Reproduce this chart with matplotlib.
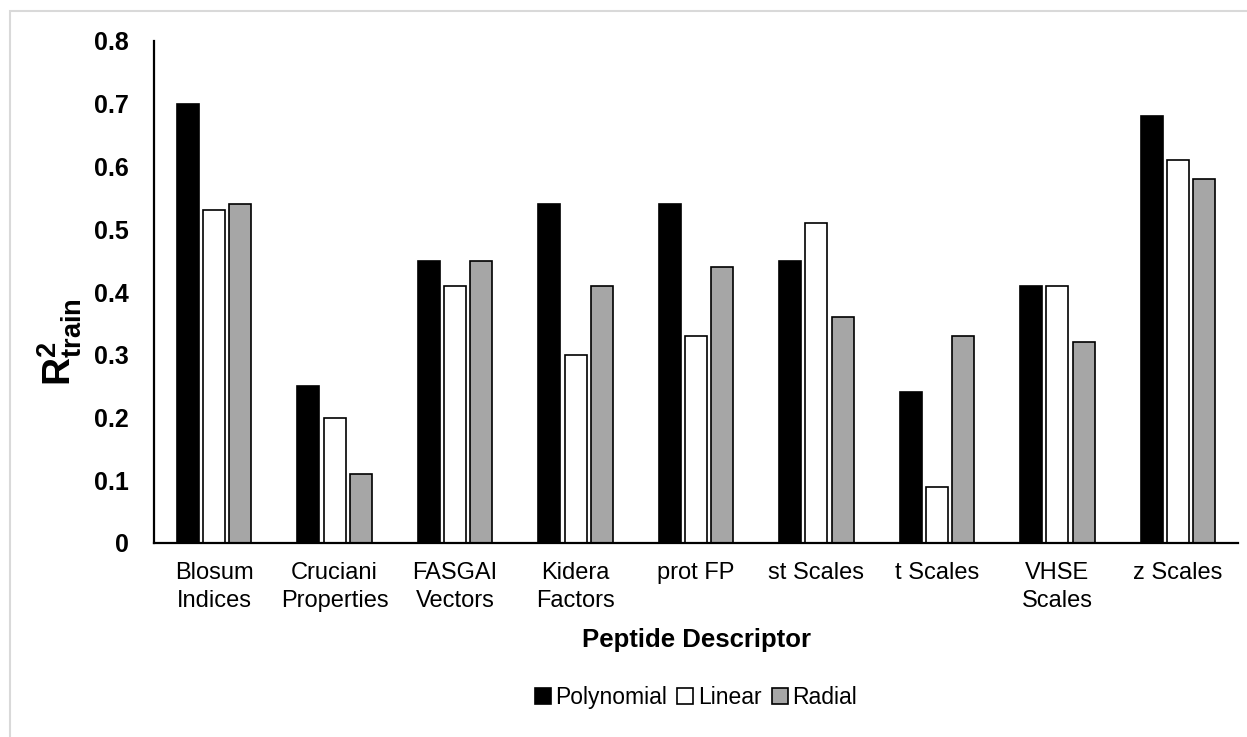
import numpy as np
import matplotlib
matplotlib.use("Agg")
import matplotlib.pyplot as plt
from matplotlib.patches import Rectangle

plt.rcParams['font.family'] = ['Liberation Sans', 'DejaVu Sans']
plt.rcParams['mathtext.fontset'] = 'custom'
plt.rcParams['mathtext.rm'] = 'Liberation Sans'
plt.rcParams['mathtext.bf'] = 'Liberation Sans:bold'

categories = ["Blosum\nIndices", "Cruciani\nProperties", "FASGAI\nVectors",
              "Kidera\nFactors", "prot FP", "st Scales", "t Scales",
              "VHSE\nScales", "z Scales"]
polynomial = [0.70, 0.25, 0.45, 0.54, 0.54, 0.45, 0.24, 0.41, 0.68]
linear = [0.53, 0.20, 0.41, 0.30, 0.33, 0.51, 0.09, 0.41, 0.61]
radial = [0.54, 0.11, 0.45, 0.41, 0.44, 0.36, 0.33, 0.32, 0.58]
series_names = ["Polynomial", "Linear", "Radial"]
colors = ["#000000", "#FFFFFF", "#A6A6A6"]

fig = plt.figure(figsize=(12.47, 7.37), dpi=100)
# light gray frame around the chart area
fig.patches.append(Rectangle((10 / 1247, -0.1), 1.2, 1.1 - 11 / 737,
                             transform=fig.transFigure, fill=False,
                             edgecolor="#D9D9D9", linewidth=1.5))

ax = fig.add_axes([154 / 1247, 194 / 737, 1084 / 1247, 502 / 737])

x = np.arange(len(categories))
step = 0.218
width = 0.183
for j, (vals, name, c) in enumerate(zip([polynomial, linear, radial], series_names, colors)):
    ax.bar(x + (j - 1) * step, vals, width, color=c, edgecolor="black",
           linewidth=1.2, label=name)

ax.set_xlim(-0.5, len(categories) - 0.5)
ax.set_ylim(0, 0.8)
ax.set_yticks(np.arange(0, 0.81, 0.1))
ax.set_yticklabels(["0"] + [f"{v:.1f}" for v in np.arange(0.1, 0.81, 0.1)],
                   fontsize=18, fontweight="bold")
ax.set_xticks(x)
ax.set_xticklabels(categories, fontsize=17, linespacing=1.3)
ax.tick_params(axis="both", length=0)
ax.tick_params(axis="x", pad=14)
ax.tick_params(axis="y", pad=18)
for s in ["top", "right"]:
    ax.spines[s].set_visible(False)
for s in ["left", "bottom"]:
    ax.spines[s].set_linewidth(1.6)

ax.set_xlabel("Peptide Descriptor", fontsize=18.5, fontweight="bold")
ax.xaxis.set_label_coords(0.5, -0.17)
ax.set_ylabel(r"$\mathbf{R^{2}_{train}}$", fontsize=28)
ax.yaxis.set_label_coords(-0.065, 0.40)

ax.legend(loc="center", bbox_to_anchor=(0.5, -0.307), ncol=3,
          frameon=False, fontsize=16.5, handlelength=0.7, handleheight=0.7,
          handletextpad=0.2, columnspacing=0.45)

fig.savefig("out.png", dpi=100)
